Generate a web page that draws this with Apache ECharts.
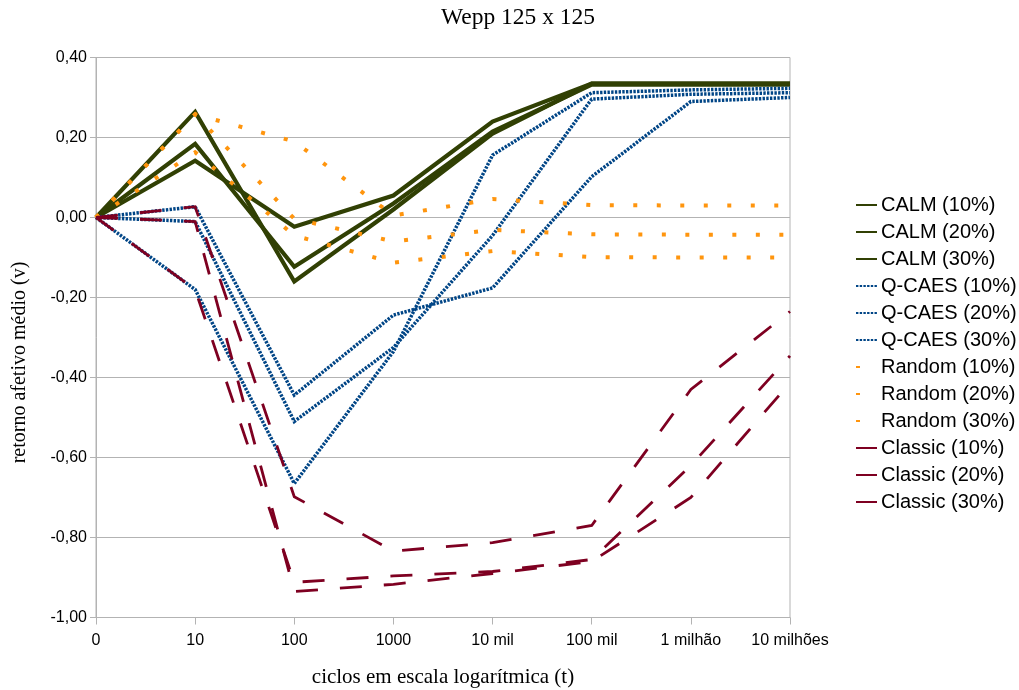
<!DOCTYPE html>
<html>
<head>
<meta charset="utf-8">
<script src="https://cdn.jsdelivr.net/npm/echarts@6/dist/echarts.min.js"></script>
<style>html,body{margin:0;padding:0;background:#fff}#c{width:1019px;height:690px}</style>
</head>
<body>
<div id="c"></div>
<script>
const categories = ['0', '10', '100', '1000', '10 mil', '100 mil', '1 milhão', '10 milhões'];
const yTicks = { min: -1, max: 0.4, interval: 0.2 };

const calm10 = [0, 0.264, -0.160, 0.020, 0.210, 0.335, 0.335, 0.335];
const calm20 = [0, 0.184, -0.123, 0.035, 0.215, 0.332, 0.332, 0.332];
const calm30 = [0, 0.142, -0.023, 0.055, 0.240, 0.335, 0.335, 0.335];

const qcaes10 = [0, 0.027, -0.444, -0.244, -0.176, 0.102, 0.290, 0.300];
const qcaes20 = [0, -0.010, -0.510, -0.325, -0.045, 0.296, 0.308, 0.312];
const qcaes30 = [0, -0.180, -0.665, -0.335, 0.156, 0.312, 0.319, 0.323];

const random10 = [0, 0.258, 0.190, 0.005, 0.046, 0.031, 0.030, 0.030];
const random20 = [0, 0.258, -0.003, -0.060, -0.031, -0.042, -0.043, -0.043];
const random30 = [0, 0.163, -0.045, -0.113, -0.084, -0.099, -0.100, -0.100];

const classic10 = [0, 0.027, -0.698, -0.834, -0.813, -0.770, -0.430, -0.235];
const classic20 = [0, -0.180, -0.912, -0.896, -0.885, -0.855, -0.620, -0.346];
const classic30 = [0, -0.010, -0.935, -0.917, -0.890, -0.860, -0.700, -0.413];

const C_CALM = '#314004', C_Q = '#004586', C_R = '#ff950e', C_C = '#7e0021';

function mk(name, data, color, width, dash) {
  return {
    name: name, type: 'line', data: data, symbol: 'none', smooth: false,
    lineStyle: { color: color, width: width, type: dash, cap: 'butt', join: 'miter' },
    itemStyle: { color: color },
    emphasis: { disabled: true }, animation: false
  };
}

const series = [
  mk('CALM (10%)', calm10, C_CALM, 4.2, 'solid'),
  mk('CALM (20%)', calm20, C_CALM, 4.2, 'solid'),
  mk('CALM (30%)', calm30, C_CALM, 4.2, 'solid'),
  mk('Q-CAES (10%)', qcaes10, C_Q, 3.5, [2.4, 1.3]),
  mk('Q-CAES (20%)', qcaes20, C_Q, 3.5, [2.4, 1.3]),
  mk('Q-CAES (30%)', qcaes30, C_Q, 3.5, [2.4, 1.3]),
  mk('Random (10%)', random10, C_R, 4, [4, 19.5]),
  mk('Random (20%)', random20, C_R, 4, [4, 19.5]),
  mk('Random (30%)', random30, C_R, 4, [4, 19.5]),
  mk('Classic (10%)', classic10, C_C, 2.8, [22, 22]),
  mk('Classic (20%)', classic20, C_C, 2.8, [22, 22]),
  mk('Classic (30%)', classic30, C_C, 2.8, [22, 22])
];

const chart = echarts.init(document.getElementById('c'), null, { renderer: 'canvas' });
chart.setOption({
  backgroundColor: '#ffffff',
  animation: false,
  title: {
    text: 'Wepp 125 x 125', left: 441, top: 6, padding: 0,
    textStyle: { fontFamily: 'Liberation Serif', fontSize: 23.5, fontWeight: 'normal', color: '#000' }
  },
  grid: {
    left: 96, right: 229, top: 57.5, bottom: 72.5, containLabel: false, outerBoundsMode: 'none',
    show: true, borderColor: '#b3b3b3', borderWidth: 1
  },
  legend: {
    orient: 'vertical', left: 855, top: 195, padding: 0,
    itemWidth: 21, itemHeight: 14, itemGap: 7,
    itemStyle: { color: 'rgba(0,0,0,0)', borderColor: 'rgba(0,0,0,0)', borderWidth: 0, opacity: 0 },
    textStyle: { fontFamily: 'Liberation Sans', fontSize: 20, lineHeight: 20, color: '#000', padding: [0, 0, 0, -1] },
    data: series.map(s => s.name)
  },
  xAxis: {
    type: 'category', data: categories, boundaryGap: false,
    axisLine: { onZero: false, lineStyle: { color: '#b3b3b3', width: 1 } },
    axisTick: { show: true, interval: 0, length: 7, lineStyle: { color: '#b3b3b3' } },
    axisLabel: { interval: 0, margin: 15, fontFamily: 'Liberation Sans', fontSize: 16, color: '#000' },
    splitLine: { show: false },
    name: 'ciclos em escala logarítmica (t)', nameLocation: 'middle', nameGap: 49,
    nameTextStyle: { fontFamily: 'Liberation Serif', fontSize: 21, color: '#000' }
  },
  yAxis: {
    type: 'value', min: yTicks.min, max: yTicks.max, interval: yTicks.interval,
    axisLine: { show: true, lineStyle: { color: '#b3b3b3', width: 1 } },
    axisTick: { show: true, length: 6, lineStyle: { color: '#b3b3b3' } },
    axisLabel: {
      margin: 9, fontFamily: 'Liberation Sans', fontSize: 16, color: '#000',
      formatter: v => (Math.round(v * 100) / 100).toFixed(2).replace('.', ',')
    },
    splitLine: { show: true, lineStyle: { color: '#b3b3b3', width: 1 } },
    name: 'retorno afetivo médio (v)', nameLocation: 'middle', nameGap: 66, nameRotate: 90,
    nameTextStyle: { fontFamily: 'Liberation Serif', fontSize: 20, color: '#000', padding: [0, 50, 0, 0] }
  },
  series: series
});
</script>
</body>
</html>
